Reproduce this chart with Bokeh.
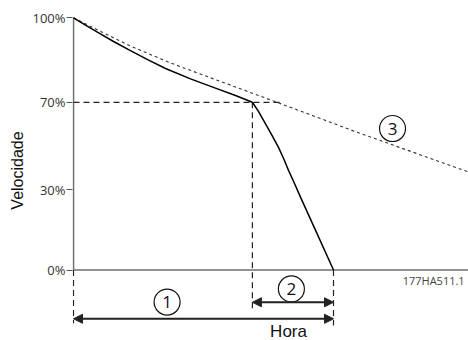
from bokeh.plotting import figure
from bokeh.models import Range1d, FixedTicker, Arrow, NormalHead
from bokeh.core.properties import value
from bokeh.embed import file_html
from bokeh.resources import INLINE

# ---- data (time in relative units, speed in the diagram's axis units) ----
time_normal = [0, 4.6, 9.2, 15.4, 21.9, 28.5, 35.4, 45.0, 54.6, 62.3, 68.8]
speed_normal = [100, 97.1, 94.3, 90.6, 87.0, 83.4, 79.9, 75.8, 72.1, 69.2, 66.5]

time_brake = [68.8, 71.2, 73.8, 76.5, 78.8, 80.8, 82.7, 85.0, 87.3, 93.5, 100]
speed_brake = [66.5, 62.8, 58.0, 53.1, 48.7, 44.2, 39.5, 34.3, 28.9, 14.8, 0]

time_coast = [0, 10.4, 21.9, 37.3, 54.6, 73.8, 92.3, 110.4, 151.9]
speed_coast = [100, 94.6, 88.8, 82.1, 75.5, 68.2, 61.1, 54.1, 38.9]

speed_ticks = [0, 31.9, 66.5, 100]
speed_tick_labels = ["0%", "30%", "70%", "100%"]

markers = ["1", "2", "3"]

# ---- figure ----
p = figure(width=468, height=340, output_backend="svg", toolbar_location=None,
           x_range=Range1d(-0.385, 151.92), y_range=Range1d(-27.95, 106.86),
           x_axis_location=None, y_axis_location="left",
           min_border_left=72, min_border_right=0, min_border_top=0, min_border_bottom=0)
p.outline_line_color = None
p.grid.visible = False
p.background_fill_color = "white"
p.border_fill_color = "white"

ax = p.yaxis[0]
ax.ticker = FixedTicker(ticks=speed_ticks)
ax.major_label_overrides = {t: l for t, l in zip(speed_ticks, speed_tick_labels)}
ax.bounds = (-30, 100)
ax.axis_line_color = None
ax.major_tick_out = 6
ax.major_tick_in = 0
ax.major_tick_line_color = "#555555"
ax.minor_tick_line_color = None
ax.major_label_standoff = 1
ax.major_label_text_font = "Open Sans"
ax.major_label_text_font_size = "13px"
ax.major_label_text_color = "#333333"
ax.axis_label = "Velocidade"
ax.axis_label_text_font = "Liberation Sans"
ax.axis_label_text_font_size = "16px"
ax.axis_label_text_font_style = "normal"
ax.axis_label_text_color = "#111111"
ax.axis_label_standoff = 3

gray = "#6e6e6e"
dark = "#222222"

# axes lines
t0 = time_normal[0]
t_stop = time_brake[-1]
p.segment(x0=[t0], y0=[speed_ticks[0]], x1=[t0], y1=[speed_ticks[-1]], line_color=gray, line_width=1.6)
p.segment(x0=[t0], y0=[speed_ticks[0]], x1=[time_coast[-1]], y1=[speed_ticks[0]], line_color=gray, line_width=1.6)

# guide lines
knee_t, knee_v = time_brake[0], speed_brake[0]
p.segment(x0=[t0], y0=[knee_v], x1=[knee_t + 10.8], y1=[knee_v], line_color=dark, line_width=1.2, line_dash="6 4")
p.segment(x0=[knee_t, t_stop, t0], y0=[knee_v, 0, 0], x1=[knee_t, t_stop, t0], y1=[-16.1, -22.0, -21.1],
          line_color=dark, line_width=1.2, line_dash="6 4")

# coasting (dotted)
p.line(time_coast, speed_coast, line_color="#333333", line_width=1.1, line_dash="3 3")
# normal deceleration + brake
p.line(time_normal, speed_normal, line_color="black", line_width=1.5)
p.line(time_brake, speed_brake, line_color="black", line_width=1.5)

# arrows
p.add_layout(Arrow(x_start=t0, y_start=-19.35, x_end=t_stop, y_end=-19.35,
                   start=NormalHead(size=9, fill_color=dark, line_color=dark),
                   end=NormalHead(size=9, fill_color=dark, line_color=dark),
                   line_color=dark, line_width=2))
p.add_layout(Arrow(x_start=knee_t, y_start=-12.8, x_end=t_stop, y_end=-12.8,
                   start=NormalHead(size=9, fill_color=dark, line_color=dark),
                   end=NormalHead(size=9, fill_color=dark, line_color=dark),
                   line_color=dark, line_width=2))

# numbered circles
cx = [36.0, 83.8, 122.7]
cy = [-12.7, -7.5, 56.1]
p.scatter(cx, cy, marker="circle", size=26, fill_color="white", line_color="#111111", line_width=1.2)
p.text(cx, cy, text=markers, text_font=value("Open Sans"), text_font_size="17px",
       text_align="center", text_baseline="middle", text_color="#111111")

# texts
p.text([82.7], [-24.4], text=["Hora"], text_font=value("Liberation Sans"), text_font_size="17px",
       text_align="center", text_baseline="middle", text_color="#111111")
p.text([126.6], [-4.0], text=["177HA511.1"], text_font=value("Open Sans"), text_font_size="11px",
       text_align="left", text_baseline="middle", text_color="#444444")

open("out.html", "w").write(file_html(p, INLINE))
